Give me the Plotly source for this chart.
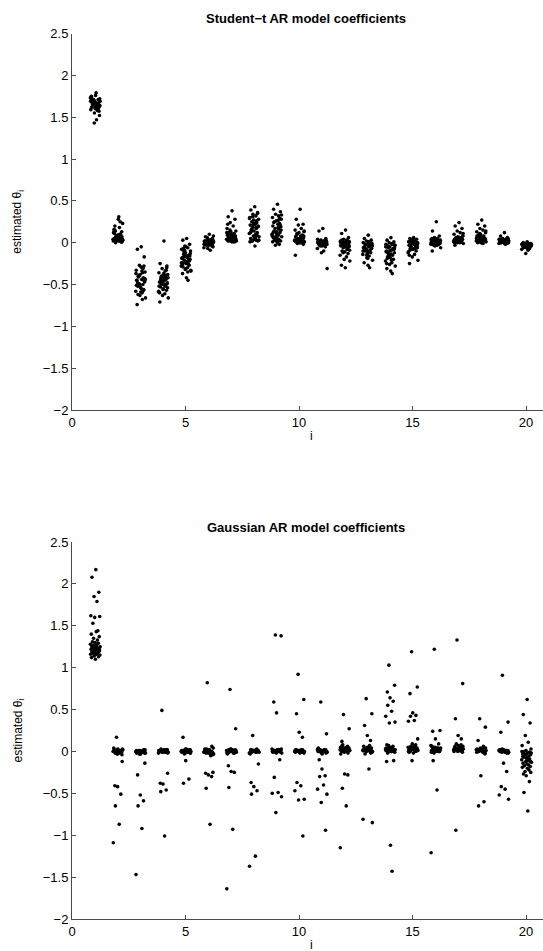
import plotly.graph_objects as go

W, H = 543, 951

coef_index = list(range(1, 21))
x_ticks = [0, 5, 10, 15, 20]
y_ticks = [2.5, 2, 1.5, 1, 0.5, 0, -0.5, -1, -1.5, -2]
y_tick_labels = ["2.5", "2", "1.5", "1", "0.5", "0", "\u22120.5", "\u22121", "\u22121.5", "\u22122"]

# hand-read horizontal jitter offsets (same jitter pattern used for each coefficient)
jitter = [0.05, -0.12, 0.18, -0.03, 0.10, -0.17, 0.22, 0.00, -0.08, 0.14, 0.07, -0.15, 0.20, -0.05, 0.12,
          -0.10, 0.02, 0.16, -0.19, 0.09, -0.01, 0.24, -0.13, 0.04, 0.11, -0.07, 0.19, -0.16, 0.06, 0.13,
          -0.04, 0.21, -0.11, 0.01, 0.15, -0.09, 0.08, -0.18, 0.23, -0.02, 0.17, -0.14, 0.03, 0.10, -0.06,
          0.20, -0.12, 0.05, 0.13, -0.08, 0.16, -0.01, 0.09, -0.15, 0.22, 0.00, -0.10, 0.12, -0.05, 0.07]

student_t = [
    [1.65,1.68,1.62,1.70,1.66,1.59,1.72,1.64,1.69,1.61,1.67,1.75,1.63,1.71,1.58,1.66,1.68,1.60,1.73,1.65,1.55,1.69,1.62,1.76,1.64,1.67,1.57,1.70,1.79,1.63,1.66,1.52,1.68,1.61,1.71,1.65,1.47,1.69,1.64,1.43,1.67,1.74,1.60,1.66,1.70],
    [0.02,0.05,0.01,0.08,0.03,0.12,0.04,0.06,0.00,0.10,0.03,0.15,0.07,0.02,0.25,0.05,0.09,0.01,0.04,0.18,0.06,0.03,0.11,0.28,0.02,0.07,0.13,0.04,0.31,0.05,0.08,0.01,0.20,0.06,0.03,0.14,0.09,0.02,0.23,0.05,0.04,0.16,0.07,0.10,0.03],
    [-0.05,-0.08,-0.17,-0.27,-0.30,-0.33,-0.35,-0.38,-0.40,-0.42,-0.44,-0.45,-0.47,-0.49,-0.50,-0.52,-0.54,-0.56,-0.58,-0.60,-0.63,-0.66,-0.74,-0.29,-0.36,-0.41,-0.46,-0.51,-0.55,-0.31,-0.39,-0.43,-0.48,-0.53,-0.57,-0.62,-0.34,-0.37,-0.44,-0.50,-0.28,-0.45,-0.59,-0.68,-0.40],
    [0.02,-0.25,-0.28,-0.31,-0.34,-0.36,-0.38,-0.40,-0.42,-0.44,-0.45,-0.47,-0.48,-0.50,-0.51,-0.53,-0.55,-0.57,-0.59,-0.61,-0.63,-0.66,-0.71,-0.37,-0.41,-0.46,-0.49,-0.52,-0.43,-0.39,-0.45,-0.54,-0.48,-0.56,-0.33,-0.44,-0.50,-0.58,-0.42,-0.47,-0.30,-0.60,-0.46,-0.52,-0.40],
    [0.05,0.03,-0.02,-0.04,-0.06,-0.08,-0.10,-0.12,-0.14,-0.15,-0.17,-0.18,-0.20,-0.21,-0.22,-0.24,-0.25,-0.27,-0.28,-0.30,-0.32,-0.34,-0.37,-0.42,-0.45,-0.11,-0.16,-0.19,-0.23,-0.26,-0.09,-0.13,-0.29,-0.31,-0.20,-0.07,-0.18,-0.24,-0.33,-0.14,-0.22,-0.26,-0.05,-0.35,-0.17],
    [0.10,0.07,0.05,0.04,0.03,0.02,0.02,0.01,0.01,0.00,0.00,0.00,-0.01,-0.01,-0.02,-0.02,-0.03,-0.04,-0.06,-0.09,0.03,0.01,-0.01,0.02,0.00,-0.03,0.04,0.01,-0.02,0.00,0.06,-0.05,0.02,-0.01,0.01,0.00,0.03,-0.02,0.08,-0.07,0.01,0.00,-0.01,0.02,0.00],
    [0.38,0.31,0.28,0.24,0.20,0.17,0.14,0.13,0.12,0.11,0.10,0.09,0.08,0.07,0.06,0.05,0.05,0.04,0.04,0.03,0.03,0.02,0.02,0.01,0.01,0.03,0.06,0.04,0.02,0.08,0.15,0.05,0.03,0.10,0.02,0.07,0.04,0.12,0.03,0.06,0.01,0.22,0.05,0.09,0.02],
    [0.43,0.39,0.36,0.34,0.32,0.30,0.28,0.27,0.25,0.24,0.22,0.21,0.20,0.18,0.17,0.15,0.14,0.12,0.11,0.10,0.08,0.07,0.05,0.04,0.03,0.02,0.02,0.01,-0.04,0.26,0.31,0.19,0.13,0.23,0.09,0.16,0.06,0.29,0.03,0.21,0.35,0.12,0.05,0.18,0.02],
    [0.46,0.40,0.37,0.34,0.32,0.30,0.28,0.26,0.25,0.23,0.22,0.20,0.19,0.17,0.16,0.14,0.13,0.12,0.10,0.09,0.08,0.07,0.06,0.05,0.04,0.03,0.02,0.01,0.00,-0.02,-0.03,0.15,0.24,0.11,0.29,0.05,0.18,0.08,0.33,0.02,0.21,0.12,0.04,0.27,0.06],
    [0.40,0.28,0.22,0.21,0.17,0.15,0.13,0.12,0.10,0.09,0.08,0.07,0.06,0.05,0.05,0.04,0.04,0.03,0.03,0.02,0.02,0.01,0.01,0.00,0.00,-0.01,-0.02,-0.15,0.06,0.03,0.01,0.08,0.02,0.04,0.00,0.11,0.05,0.02,0.14,0.01,0.03,0.07,0.00,0.04,0.02],
    [0.17,0.14,0.05,0.03,0.02,0.01,0.01,0.00,0.00,0.00,-0.01,-0.01,-0.02,-0.02,-0.03,-0.03,-0.04,-0.05,-0.07,-0.10,-0.12,-0.31,0.02,0.01,0.00,-0.01,0.03,0.00,-0.02,0.01,-0.01,0.00,0.02,-0.03,0.01,0.00,-0.01,0.04,-0.02,0.00,0.01,-0.01,0.00,0.02,-0.04],
    [0.15,0.11,0.06,0.04,0.03,0.02,0.01,0.00,-0.01,-0.02,-0.03,-0.04,-0.05,-0.06,-0.08,-0.10,-0.11,-0.13,-0.15,-0.17,-0.20,-0.22,-0.27,-0.30,0.02,0.00,-0.01,-0.03,0.01,-0.02,0.00,-0.04,0.03,-0.01,-0.06,0.00,-0.02,0.01,-0.09,-0.03,0.02,-0.01,-0.05,0.00,-0.12],
    [0.09,0.05,0.03,0.02,0.01,0.00,-0.01,-0.02,-0.03,-0.04,-0.05,-0.06,-0.07,-0.08,-0.09,-0.10,-0.11,-0.12,-0.14,-0.16,-0.18,-0.21,-0.24,-0.27,-0.30,-0.02,-0.04,-0.06,0.00,-0.01,-0.08,-0.03,-0.05,-0.13,-0.02,-0.07,0.01,-0.10,-0.04,-0.15,-0.01,-0.06,-0.19,-0.03,-0.09],
    [0.06,0.03,0.01,0.00,-0.01,-0.02,-0.03,-0.05,-0.06,-0.07,-0.09,-0.10,-0.12,-0.13,-0.15,-0.17,-0.18,-0.20,-0.22,-0.24,-0.26,-0.28,-0.31,-0.34,-0.37,-0.04,-0.08,-0.11,-0.14,-0.02,-0.16,-0.06,-0.19,-0.09,-0.01,-0.12,-0.21,-0.05,-0.03,-0.15,-0.07,-0.25,-0.10,-0.02,-0.13],
    [0.06,0.05,0.04,0.03,0.02,0.01,0.00,0.00,-0.01,-0.01,-0.02,-0.03,-0.04,-0.05,-0.06,-0.07,-0.08,-0.10,-0.12,-0.14,-0.17,-0.21,-0.25,0.02,0.00,-0.02,-0.04,0.01,-0.01,-0.03,0.03,-0.06,-0.09,0.00,-0.02,-0.05,0.01,-0.11,-0.01,0.04,-0.03,-0.15,0.02,-0.07,0.00],
    [0.25,0.14,0.08,0.06,0.05,0.04,0.03,0.03,0.02,0.02,0.01,0.01,0.00,0.00,0.00,-0.01,-0.01,-0.02,-0.02,-0.03,-0.04,-0.06,-0.10,0.02,0.01,0.00,-0.01,0.03,0.01,0.00,0.02,-0.01,0.04,0.00,0.01,-0.02,0.03,0.00,0.02,0.01,-0.01,0.05,0.00,0.02,-0.03],
    [0.24,0.20,0.17,0.14,0.12,0.10,0.08,0.07,0.06,0.05,0.05,0.04,0.04,0.03,0.03,0.02,0.02,0.01,0.01,0.00,0.00,-0.01,-0.03,0.06,0.03,0.02,0.04,0.01,0.05,0.03,0.02,0.08,0.00,0.04,0.01,0.03,0.06,0.02,0.11,0.01,0.03,0.00,0.05,0.02,0.04],
    [0.27,0.22,0.20,0.17,0.15,0.13,0.12,0.10,0.09,0.08,0.07,0.06,0.05,0.05,0.04,0.04,0.03,0.03,0.02,0.02,0.01,0.01,0.00,0.00,-0.01,0.06,0.03,0.08,0.02,0.05,0.11,0.04,0.01,0.07,0.03,0.09,0.02,0.05,0.14,0.01,0.04,0.06,0.00,0.03,0.10],
    [0.12,0.08,0.06,0.05,0.04,0.04,0.03,0.03,0.02,0.02,0.02,0.01,0.01,0.01,0.00,0.00,0.00,-0.01,-0.01,-0.02,0.03,0.02,0.01,0.00,0.02,0.04,0.01,0.03,0.00,0.02,0.01,0.05,0.00,0.03,-0.01,0.02,0.01,0.04,0.00,0.02,0.01,0.03,0.00,0.01,0.02],
    [0.01,0.00,-0.01,-0.01,-0.02,-0.02,-0.02,-0.03,-0.03,-0.03,-0.04,-0.04,-0.04,-0.05,-0.05,-0.06,-0.06,-0.07,-0.08,-0.09,-0.13,-0.02,-0.03,-0.04,-0.01,-0.05,-0.03,-0.02,-0.04,-0.06,-0.03,-0.01,-0.05,-0.02,-0.04,-0.03,-0.07,-0.02,-0.04,-0.03,-0.05,-0.01,-0.03,-0.04,-0.02],
]

gaussian = [
    [2.17,2.08,1.90,1.85,1.79,1.62,1.61,1.60,1.53,1.44,1.43,1.40,1.37,1.35,1.33,1.31,1.30,1.29,1.28,1.27,1.26,1.25,1.25,1.24,1.23,1.23,1.22,1.22,1.21,1.21,1.20,1.20,1.19,1.18,1.18,1.17,1.16,1.16,1.15,1.14,1.13,1.12,1.10,1.24,1.27,1.22,1.19,1.26,1.21,1.17],
    [0.00,0.01,-0.01,0.02,-0.02,0.00,0.03,-0.03,0.01,-0.01,0.00,0.02,-0.04,0.01,0.00,-0.02,0.03,-0.01,0.00,0.01,-0.03,0.02,0.00,-0.01,0.01,-0.02,0.00,0.04,-0.01,0.01,0.17,-0.12,-0.41,-0.42,-0.51,-0.65,-0.87,-1.09],
    [-0.01,0.00,0.01,-0.02,0.00,-0.01,0.02,-0.03,0.00,0.01,-0.01,-0.02,0.00,0.01,-0.01,0.00,-0.03,0.02,0.00,-0.01,0.01,-0.02,0.00,-0.01,0.01,0.00,-0.02,0.01,-0.01,0.00,-0.03,-0.14,-0.28,-0.52,-0.59,-0.65,-0.92,-1.47],
    [0.00,0.01,0.02,-0.01,0.00,0.01,-0.02,0.00,0.03,0.01,-0.01,0.00,0.02,0.01,-0.01,0.00,0.01,0.02,-0.02,0.00,0.01,-0.01,0.00,0.02,0.01,0.00,-0.01,0.01,0.00,0.02,0.49,-0.26,-0.38,-0.39,-0.46,-0.48,-1.01],
    [0.01,0.00,-0.01,0.02,0.00,0.01,-0.02,0.03,0.00,-0.01,0.01,0.00,0.02,-0.03,0.01,0.00,-0.01,0.02,0.00,0.01,-0.02,0.00,0.01,0.03,-0.01,0.00,0.02,-0.01,0.01,0.00,0.00,-0.02,0.17,-0.11,-0.33,-0.38],
    [0.00,0.02,-0.01,0.01,-0.03,0.00,0.04,-0.02,0.01,0.00,-0.01,0.03,-0.04,0.02,0.00,-0.02,0.01,0.06,-0.01,0.00,0.02,-0.03,0.01,0.00,-0.05,0.03,-0.01,0.00,0.02,-0.02,0.82,-0.25,-0.26,-0.28,-0.30,-0.44,-0.87],
    [0.00,0.01,-0.01,0.02,0.00,-0.02,0.01,0.03,-0.01,0.00,0.02,-0.03,0.01,0.00,-0.01,0.02,0.00,-0.02,0.01,0.00,0.03,-0.01,0.00,0.01,-0.02,0.00,0.02,-0.01,0.01,0.00,0.74,0.27,-0.17,-0.24,-0.25,-0.43,-0.93,-1.64],
    [0.00,-0.01,0.01,0.00,0.02,-0.02,0.00,0.01,-0.01,0.03,0.00,-0.03,0.01,0.00,-0.01,0.02,0.00,0.01,-0.02,0.00,0.01,-0.01,0.02,0.00,-0.01,0.01,0.00,-0.02,0.01,0.00,0.19,-0.15,-0.37,-0.42,-0.47,-0.51,-1.25,-1.37],
    [0.01,0.00,0.02,-0.01,0.01,0.00,0.03,-0.02,0.01,0.02,0.00,-0.01,0.01,0.00,0.02,0.01,-0.01,0.00,0.03,0.01,0.00,-0.02,0.01,0.02,0.00,0.01,-0.01,0.00,0.02,0.01,1.39,1.38,0.59,0.46,-0.10,-0.31,-0.49,-0.50,-0.54,-0.73],
    [0.00,0.01,-0.01,0.00,0.02,0.01,-0.02,0.00,0.01,0.00,-0.01,0.02,0.00,0.01,-0.01,0.00,0.01,0.02,0.00,-0.01,0.01,0.00,0.02,-0.02,0.00,0.01,0.00,-0.01,0.01,0.00,0.92,0.62,0.45,0.23,0.17,-0.37,-0.41,-0.47,-0.57,-0.58,-1.01],
    [0.01,0.00,0.02,-0.01,0.01,0.03,0.00,-0.02,0.02,0.01,0.00,0.04,-0.01,0.01,0.02,0.00,-0.03,0.01,0.02,0.00,0.01,-0.01,0.03,0.00,0.01,0.02,-0.02,0.00,0.01,0.02,0.59,0.21,-0.10,-0.21,-0.29,-0.30,-0.40,-0.45,-0.51,-0.61,-0.94],
    [0.02,0.03,0.01,0.04,0.00,0.05,0.02,-0.01,0.03,0.06,0.01,0.02,0.04,0.00,0.03,0.07,0.01,-0.02,0.02,0.05,0.03,0.01,0.00,0.04,0.02,0.08,0.01,-0.03,0.03,0.02,0.44,0.27,0.12,-0.27,-0.28,-0.44,-0.65,-1.15],
    [0.02,0.01,0.03,0.00,0.04,0.02,-0.01,0.05,0.01,0.03,0.02,0.06,0.00,0.01,0.04,0.02,0.03,-0.02,0.01,0.05,0.02,0.00,0.03,0.01,0.07,0.02,0.04,0.01,0.03,0.00,0.63,0.45,0.31,0.19,0.13,-0.03,-0.21,-0.81,-0.85],
    [0.01,0.03,0.00,0.02,0.05,0.01,-0.01,0.04,0.02,0.06,0.00,0.03,0.01,0.07,0.02,-0.02,0.04,0.01,0.03,0.00,0.05,0.02,0.08,0.01,0.03,-0.01,0.02,0.04,0.00,0.02,1.03,0.79,0.71,0.64,0.60,0.55,0.48,0.42,0.35,0.34,-0.11,-0.12,-1.12,-1.43],
    [0.02,0.04,0.01,0.03,0.06,0.00,0.02,0.05,0.01,0.08,0.03,-0.01,0.04,0.02,0.07,0.00,0.03,0.01,0.05,0.02,0.09,0.01,0.04,-0.02,0.03,0.06,0.01,0.02,0.04,0.00,1.19,0.77,0.69,0.46,0.43,0.42,0.37,0.36,0.15,-0.11],
    [0.01,0.03,0.00,0.02,0.04,-0.01,0.02,0.05,0.01,0.03,0.00,0.06,0.02,-0.02,0.04,0.01,0.03,0.00,0.07,0.02,0.01,0.04,-0.01,0.03,0.02,0.05,0.00,0.01,0.03,0.02,1.22,0.25,0.24,0.15,0.09,-0.11,-0.46,-1.21],
    [0.02,0.04,0.01,0.03,0.05,0.00,0.06,0.02,0.03,0.08,0.01,0.04,-0.01,0.02,0.05,0.03,0.07,0.01,0.02,0.04,0.00,0.03,0.06,0.02,0.01,0.09,0.03,0.02,0.05,0.01,1.33,0.81,0.39,0.19,0.15,-0.94],
    [0.01,0.02,0.00,0.03,0.01,-0.01,0.04,0.02,0.00,0.05,0.01,0.03,-0.02,0.02,0.06,0.00,0.01,0.03,0.02,-0.01,0.04,0.01,0.00,0.02,0.03,0.01,-0.03,0.02,0.01,0.00,0.39,0.29,0.13,-0.29,-0.60,-0.65],
    [0.00,0.01,-0.01,0.02,0.00,0.01,-0.02,0.00,0.02,0.01,-0.01,0.00,0.01,0.03,-0.01,0.00,0.02,-0.02,0.01,0.00,0.01,-0.01,0.02,0.00,0.01,-0.01,0.00,0.02,0.01,0.00,0.91,0.35,0.23,-0.14,-0.24,-0.42,-0.45,-0.52,-0.57],
    [0.62,0.44,0.34,0.19,0.11,0.07,0.03,0.01,0.00,-0.01,-0.02,-0.03,-0.04,-0.05,-0.06,-0.07,-0.08,-0.09,-0.10,-0.11,-0.12,-0.13,-0.14,-0.15,-0.16,-0.17,-0.18,-0.19,-0.20,-0.22,-0.24,-0.25,-0.27,-0.29,-0.36,-0.49,-0.71,0.00,-0.02,-0.04,-0.01,-0.06,-0.03,-0.09,-0.05,-0.12,-0.02,-0.08],
]

titles = ["Student\u2212t AR model coefficients", "Gaussian AR model coefficients"]


def flatten(groups):
    xs, ys = [], []
    for idx, vals in zip(coef_index, groups):
        for k, v in enumerate(vals):
            xs.append(idx + jitter[k % len(jitter)])
            ys.append(v)
    return xs, ys


FONT = "Liberation Sans, Arial, Helvetica, sans-serif"
AXC = "#4a4a4a"

fig = go.Figure()
for n, groups in enumerate([student_t, gaussian]):
    xs, ys = flatten(groups)
    fig.add_trace(go.Scatter(
        x=xs, y=ys, mode="markers",
        marker=dict(color="black", size=3.6, line=dict(width=0)),
        xaxis="x" if n == 0 else "x2", yaxis="y" if n == 0 else "y2",
        showlegend=False, hoverinfo="skip",
    ))

# pixel geometry of the two axes
x_left = 72
px_per_unit = 22.7
x_max = (W - x_left) / px_per_unit
top_px = (33.5, 410)
bot_px = (542, 919)


def ydom(p):
    return [1 - p[1] / H, 1 - p[0] / H]


axis_common = dict(
    showline=True, linecolor=AXC, linewidth=1, ticks="inside", ticklen=4, tickcolor=AXC,
    tickwidth=1, showgrid=False, zeroline=False, mirror=False, automargin=False,
    tickfont=dict(family=FONT, size=13, color="black"),
)

fig.update_layout(
    width=W, height=H, margin=dict(l=0, r=0, t=0, b=0, autoexpand=False),
    paper_bgcolor="white", plot_bgcolor="white",
    xaxis=dict(domain=[x_left / W, 1], range=[0, x_max], tickvals=x_ticks, anchor="y", **axis_common),
    yaxis=dict(domain=ydom(top_px), range=[-2, 2.5], tickvals=y_ticks, ticktext=y_tick_labels, anchor="x", **axis_common),
    xaxis2=dict(domain=[x_left / W, 1], range=[0, x_max], tickvals=x_ticks, anchor="y2", **axis_common),
    yaxis2=dict(domain=ydom(bot_px), range=[-2, 2.5], tickvals=y_ticks, ticktext=y_tick_labels, anchor="x2", **axis_common),
)

ann = []
centre_x = 306 / W
for t, (ptop, pbot) in zip(titles, [top_px, bot_px]):
    ann.append(dict(text="<b>%s</b>" % t, x=centre_x, y=1 - (ptop - 15) / H, xref="paper", yref="paper",
                    xanchor="center", yanchor="middle", showarrow=False,
                    font=dict(family=FONT, size=13, color="black")))
    ann.append(dict(text="estimated \u03b8<sub>i</sub>", x=18 / W, y=1 - ((ptop + pbot) / 2) / H,
                    xref="paper", yref="paper", xanchor="center", yanchor="middle", textangle=-90,
                    showarrow=False, font=dict(family=FONT, size=12, color="black")))
    ann.append(dict(text="i", x=311 / W, y=1 - (pbot + 26) / H, xref="paper", yref="paper",
                    xanchor="center", yanchor="middle", showarrow=False,
                    font=dict(family=FONT, size=12, color="black")))
fig.update_layout(annotations=ann)

# remove the browser's default 8px page margin so the figure sits at the window's corner
fig.write_html("out.html", config={"displayModeBar": False, "staticPlot": True},
               post_script="document.body.style.margin='0';document.body.style.overflow='hidden';")
